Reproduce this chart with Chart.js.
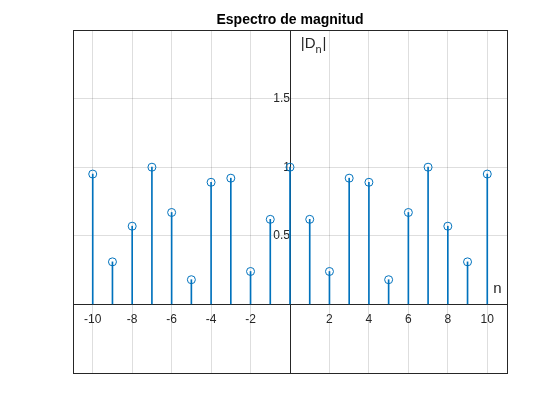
<!DOCTYPE html>
<html><head><meta charset="utf-8">
<script src="https://cdn.jsdelivr.net/npm/chart.js@4/dist/chart.umd.min.js"></script>
<style>body{margin:0;background:#fff}#c{display:block}</style>
</head><body>
<canvas id="c" width="560" height="420"></canvas>
<script>
// spectrum samples n = -10..10
const nVals = [-10,-9,-8,-7,-6,-5,-4,-3,-2,-1,0,1,2,3,4,5,6,7,8,9,10];
const magnitudes = [0.95,0.31,0.57,1.0,0.67,0.18,0.89,0.92,0.24,0.62,1.0,0.62,0.24,0.92,0.89,0.18,0.67,1.0,0.57,0.31,0.95];
const xTicks = [-10,-8,-6,-4,-2,2,4,6,8,10];
const yTicks = [0.5,1,1.5];
const stemColor = '#0072BD';
const font = 'Helvetica, "Liberation Sans", Arial, sans-serif';

const pts = nVals.map((n, i) => ({ x: n, y: magnitudes[i] }));

const decor = {
    id: 'decor',
    afterDraw(chart) {
        const { ctx, chartArea: a, scales } = chart;
        ctx.save();
        ctx.strokeStyle = '#262626';
        ctx.lineWidth = 1;
        ctx.strokeRect(a.left + 0.5, a.top + 0.5, a.right - a.left, a.bottom - a.top);
        ctx.fillStyle = '#000';
        ctx.font = 'bold 14px ' + font;
        ctx.textAlign = 'center';
        ctx.fillText('Espectro de magnitud', (a.left + a.right) / 2, 24);
        ctx.fillStyle = '#262626';
        ctx.textAlign = 'left';
        ctx.font = '15px ' + font;
        const lx = scales.x.getPixelForValue(0.55), ly = scales.y.getPixelForValue(1.87);
        ctx.fillText('|D', lx, ly);
        const w = ctx.measureText('|D').width;
        ctx.font = '11px ' + font;
        ctx.fillText('n', lx + w, ly + 5);
        ctx.font = '15px ' + font;
        ctx.fillText('|', lx + w + 7, ly);
        ctx.fillText('n', scales.x.getPixelForValue(10.3), scales.y.getPixelForValue(0.08));
        ctx.restore();
    }
};

new Chart(document.getElementById('c'), {
    type: 'bar',
    data: {
        datasets: [
            { type: 'bar', data: pts, backgroundColor: stemColor, barThickness: 1, order: 2 },
            { type: 'scatter', data: pts, borderColor: stemColor, backgroundColor: 'rgba(0,0,0,0)',
              pointRadius: 4, borderWidth: 1, order: 1 }
        ]
    },
    options: {
        responsive: false, animation: false,
        layout: { padding: { left: 73, right: 53, top: 30, bottom: 47 } },
        plugins: { legend: { display: false }, tooltip: { enabled: false } },
        scales: {
            x: {
                type: 'linear', min: -11, max: 11, offset: false, position: { y: 0 },
                grid: { color: 'rgba(0,0,0,0.13)', tickLength: 0, offset: false },
                border: { color: '#262626' },
                afterBuildTicks: s => { s.ticks = [-10,-8,-6,-4,-2,0,2,4,6,8,10].map(v => ({ value: v })); },
                ticks: { color: '#262626', font: { size: 12, family: font }, padding: 8, maxRotation: 0,
                         callback: v => xTicks.includes(v) ? String(v) : '' }
            },
            y: {
                min: -0.5, max: 2, position: { x: 0 },
                grid: { color: 'rgba(0,0,0,0.13)', tickLength: 0 },
                border: { color: '#262626' },
                afterBuildTicks: s => { s.ticks = [-0.5,0,0.5,1,1.5,2].map(v => ({ value: v })); },
                ticks: { color: '#262626', font: { size: 12, family: font }, padding: 10,
                         callback: v => yTicks.includes(v) ? String(v) : '' }
            }
        }
    },
    plugins: [decor]
});
</script>
</body></html>
